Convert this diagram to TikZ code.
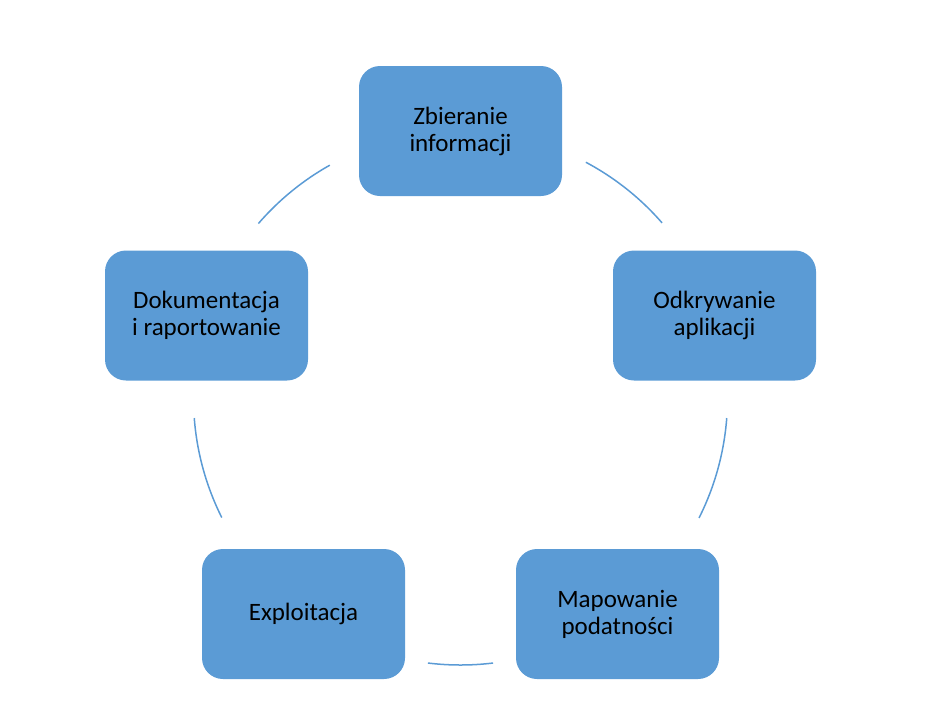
\documentclass[tikz,border=0pt]{standalone}
\usepackage{fontspec}
\setmainfont{Carlito}
\definecolor{boxblue}{HTML}{5B9BD5}
\begin{document}
\begin{tikzpicture}[x=1pt,y=-1pt,
  stage/.style={fill=boxblue, draw=none, rounded corners=21pt, minimum width=203pt, minimum height=130pt,
    align=center, inner sep=0pt, font=\fontsize{25}{27}\selectfont, text=black},
  link/.style={draw=boxblue, line width=1.5pt}]
\useasboundingbox (0,0) rectangle (931,715);
\coordinate (c) at (460.5,398);
\node[stage] (s1) at (460.5,131) {Zbieranie\\informacji};
\node[stage] (s2) at (714.5,315.5) {Odkrywanie\\aplikacji};
\node[stage] (s3) at (617.5,614) {Mapowanie\\podatności};
\node[stage] (s4) at (303.5,614) {Exploitacja};
\node[stage] (s5) at (206.5,315.5) {Dokumentacja\\i raportowanie};
\def\R{267}
\draw[link] (c) ++(62:{\R} and {-\R}) arc[start angle=62, end angle=41, x radius=\R, y radius=-\R];
\draw[link] (c) ++(-4.3:{\R} and {-\R}) arc[start angle=-4.3, end angle=-26.7, x radius=\R, y radius=-\R];
\draw[link] (c) ++(-97:{\R} and {-\R}) arc[start angle=-97, end angle=-83, x radius=\R, y radius=-\R];
\draw[link] (c) ++(206.6:{\R} and {-\R}) arc[start angle=206.6, end angle=184.3, x radius=\R, y radius=-\R];
\draw[link] (c) ++(139.2:{\R} and {-\R}) arc[start angle=139.2, end angle=119.3, x radius=\R, y radius=-\R];
\end{tikzpicture}
\end{document}
